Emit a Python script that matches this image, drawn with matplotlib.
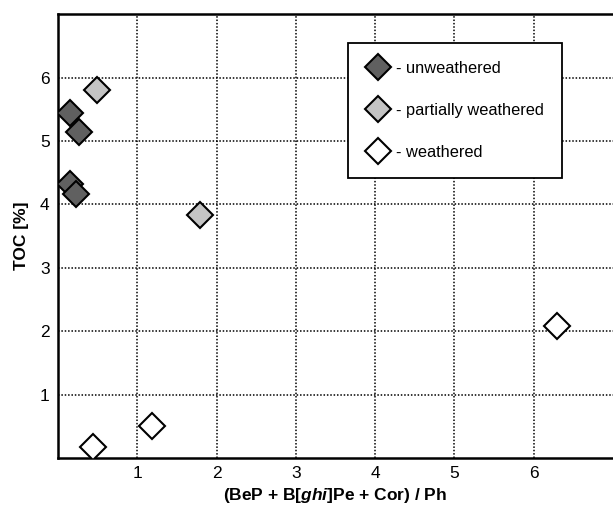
import matplotlib
matplotlib.use("Agg")
import matplotlib.pyplot as plt

plt.rcParams["font.family"] = ["Liberation Sans", "DejaVu Sans"]
plt.rcParams["mathtext.fontset"] = "custom"
plt.rcParams["mathtext.rm"] = "Liberation Sans:bold"
plt.rcParams["mathtext.it"] = "Liberation Sans:italic:bold"

# --- data ---
unw_x = [0.15, 0.27, 0.15, 0.23]
unw_y = [5.44, 5.14, 4.33, 4.17]
part_x = [0.49, 1.79]
part_y = [5.81, 3.83]
wea_x = [0.44, 1.18, 6.30]
wea_y = [0.17, 0.51, 2.09]

x_ticks = [1, 2, 3, 4, 5, 6]
y_ticks = [1, 2, 3, 4, 5, 6]

fig = plt.figure(figsize=(6.13, 5.08), dpi=100)
ax = fig.add_axes([0.0946, 0.0984, 0.9054, 0.8735])

ms = 13.5
ax.plot(unw_x, unw_y, "D", ms=ms, mfc="#606060", mec="black", mew=1.5,
        ls="none", label="- unweathered", zorder=3)
ax.plot(part_x, part_y, "D", ms=ms, mfc="#c4c4c4", mec="black", mew=1.5,
        ls="none", label="- partially weathered", zorder=3)
ax.plot(wea_x, wea_y, "D", ms=ms, mfc="white", mec="black", mew=1.5,
        ls="none", label="- weathered", zorder=3)

ax.set_xlim(0, 7)
ax.set_ylim(0, 7)
ax.set_xticks(x_ticks)
ax.set_yticks(y_ticks)
ax.tick_params(length=0, labelsize=12.5, pad=6)
ax.grid(True, color="black", linestyle=(0, (1, 1.2)), linewidth=1.1)
ax.set_axisbelow(True)

for side in ["left", "bottom", "top"]:
    ax.spines[side].set_linewidth(1.8)
ax.spines["right"].set_visible(False)

ax.set_xlabel(r"(BeP + B[$ghi$]Pe + Cor) / Ph", fontsize=12.5,
              fontweight="bold", labelpad=3)
ax.set_ylabel("TOC [%]", fontsize=12.5, fontweight="bold", labelpad=8)

leg = ax.legend(loc="upper left", bbox_to_anchor=(0.522, 0.935),
                fontsize=11.8, frameon=True, fancybox=False, framealpha=1,
                edgecolor="black", labelspacing=1.65, borderpad=1.1,
                handletextpad=0.35, handlelength=1.5, borderaxespad=0,
                markerscale=0.95)
leg.get_frame().set_linewidth(1.3)

fig.savefig("out.png", dpi=100)
